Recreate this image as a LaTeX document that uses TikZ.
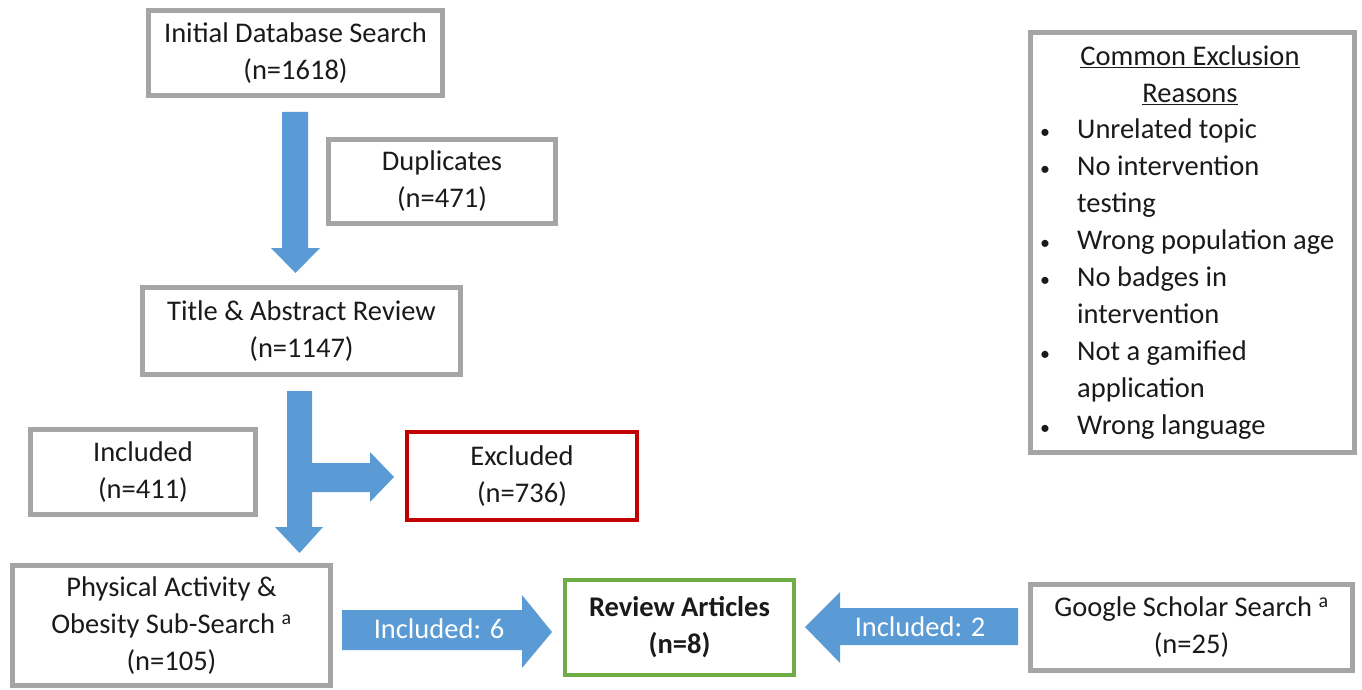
\documentclass[tikz,border=0pt]{standalone}
\usepackage{fontspec}
\setmainfont{Carlito}
\definecolor{boxgray}{HTML}{A5A5A5}
\definecolor{arrowblue}{HTML}{5B9BD5}
\definecolor{exred}{HTML}{C00000}
\definecolor{incgreen}{HTML}{70AD47}
\definecolor{txt}{HTML}{1A1A1A}
\newcommand\fsz{\fontsize{28.5}{37}\selectfont}
\newcommand\mybul{\makebox[20pt]{\fontsize{20}{20}\selectfont\textbullet}}
\begin{document}
\begin{tikzpicture}[x=1pt,y=-1pt,
  box/.style={draw=boxgray, line width=5pt, fill=white, align=center,
    font=\fsz, text=txt, inner sep=0pt},
  blockarrow/.style={fill=arrowblue, draw=none},
  arrowlabel/.style={text=white, font=\fsz, inner sep=0pt}]
\useasboundingbox[fill=white] (0,0) rectangle (1362,690);

% boxes
\node[box, minimum width=294pt, minimum height=85pt] (init) at (295.5,53)
  {Initial Database Search\\(n=1618)};
\node[box, minimum width=227pt, minimum height=84pt] (dup) at (442,181.5)
  {Duplicates\\(n=471)};
\node[box, minimum width=318pt, minimum height=87pt] (title) at (301.5,331)
  {Title \& Abstract Review\\(n=1147)};
\node[box, minimum width=225pt, minimum height=85pt] (incl) at (143,472)
  {Included\\(n=411)};
\node[box, draw=exred, line width=4pt, minimum width=230pt, minimum height=88pt] (excl) at (522,476)
  {Excluded\\(n=736)};
\node[box, minimum width=318pt, minimum height=120pt] (pa) at (171.5,625.5)
  {Physical Activity \&\\Obesity Sub-Search \textsuperscript{a}\\(n=105)};
\node[box, draw=incgreen, line width=4pt, minimum width=229pt, minimum height=95pt] (rev) at (679.5,627.5)
  {\bfseries Review Articles\\\bfseries (n=8)};
\node[box, minimum width=322pt, minimum height=86pt] (gs) at (1191.5,627.5)
  {Google Scholar Search \textsuperscript{a}\\(n=25)};
\node[box, minimum width=324pt, minimum height=420pt] (reasons) at (1192.5,242.5) {};

% reasons text
\node[align=center, font=\fsz, text=txt, inner sep=0pt] (rhead) at (1190,75)
  {\underline{Common Exclusion}\\\underline{Reasons}};
\node[anchor=north west, font=\fsz, text=txt, inner sep=0pt] (rlist) at (1035,112)
  {\begin{tabular}{@{}p{42pt}@{}l@{}}
  \mybul & Unrelated topic\\
  \mybul & No intervention\\
   & testing\\
  \mybul & Wrong population age\\
  \mybul & No badges in\\
   & intervention\\
  \mybul & Not a gamified\\
   & application\\
  \mybul & Wrong language
  \end{tabular}};

% block arrows
\fill[blockarrow] (282,112) -- (308,112) -- (308,248) -- (320,248) -- (295.5,273)
  -- (271,248) -- (282,248) -- cycle;
\fill[blockarrow] (287,391) -- (312,391) -- (312,463) -- (370,463) -- (370,452)
  -- (394,477) -- (370,502) -- (370,492) -- (312,492) -- (312,527) -- (323,527)
  -- (299.5,553) -- (275,527) -- (287,527) -- cycle;
\fill[blockarrow] (342,610) -- (522,610) -- (522,595) -- (552,632) -- (522,668)
  -- (522,650) -- (342,650) -- cycle;
\fill[blockarrow] (1018,608) -- (840,608) -- (840,592) -- (805,627) -- (840,663)
  -- (840,645) -- (1018,645) -- cycle;
\node[arrowlabel] (inc6) at (439,629) {Included: 6};
\node[arrowlabel] (inc2) at (920,627) {Included: 2};
\end{tikzpicture}
\end{document}
